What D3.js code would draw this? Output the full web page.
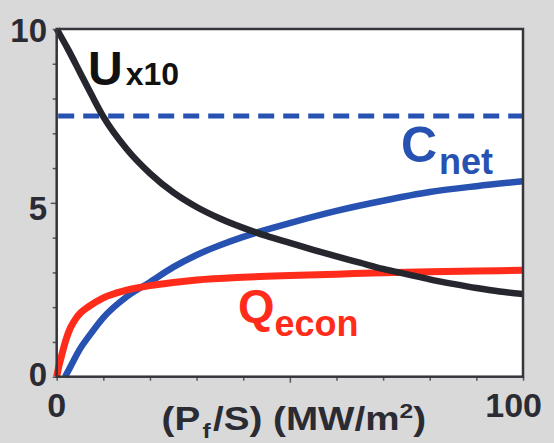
<!DOCTYPE html>
<html>
<head>
<meta charset="utf-8">
<script src="https://cdn.jsdelivr.net/npm/d3@7"></script>
<style>
  body { margin: 0; background: #d9d9da; }
  svg { display: block; }
  text { font-family: "Liberation Sans", Arial, Helvetica, sans-serif; font-weight: bold; }
</style>
</head>
<body>
<svg id="chart" width="554" height="443"></svg>
<script>
// values
let uX = [0, 2.5, 5, 7.5, 10, 15, 20, 25, 30, 35, 40, 45, 50, 55, 60, 65, 70, 75, 80, 85, 90, 95, 100];
let uY = [10, 9.4, 8.75, 8.1, 7.48, 6.55, 5.85, 5.3, 4.88, 4.55, 4.28, 4.05, 3.85, 3.65, 3.46, 3.28, 3.1, 2.95, 2.8, 2.67, 2.55, 2.45, 2.38];

let cX = [1.8, 3, 5, 7, 10, 15, 20, 25, 30, 35, 40, 45, 50, 60, 70, 80, 90, 100];
let cY = [0, 0.3, 0.8, 1.18, 1.7, 2.3, 2.72, 3.15, 3.5, 3.78, 4.02, 4.23, 4.42, 4.77, 5.06, 5.31, 5.48, 5.62];

let qX = [0, 0.5, 1, 2, 3, 4, 5, 7, 10, 15, 20, 25, 30, 40, 50, 60, 70, 80, 90, 100];
let qY = [0, 0.32, 0.58, 1.07, 1.42, 1.65, 1.82, 2.03, 2.27, 2.49, 2.62, 2.71, 2.78, 2.86, 2.91, 2.95, 2.99, 3.02, 3.04, 3.06];

let dashX = [0, 100];
let dashY = [7.5, 7.5];

let xTicks = [0, 10, 20, 30, 40, 50, 60, 70, 80, 90, 100];
let yTicks = [0, 1, 2, 3, 4, 5, 6, 7, 8, 9, 10];
let xLabels = [0, 100];
let yLabels = [0, 5, 10];

const blue = '#2752b2', red = '#ff2c1b', dark = '#26262e';

let svg = d3.select('#chart');

let xScale = d3.scaleLinear().domain([0, 100]).range([56.7, 523]);
let yScale = d3.scaleLinear().domain([0, 10]).range([376.7, 29]);

// plot area
svg.append('rect')
  .attr('x', xScale(0)).attr('y', yScale(10))
  .attr('width', xScale(100) - xScale(0))
  .attr('height', yScale(0) - yScale(10))
  .attr('fill', '#fff');

// ticks (outside)
let xAxis = d3.axisBottom(xScale).tickValues(xTicks).tickFormat('').tickSizeOuter(0)
  .tickSize(4);
let gx = svg.append('g').attr('transform', `translate(0,${yScale(0)})`).call(xAxis);
let yAxis = d3.axisLeft(yScale).tickValues(yTicks).tickFormat('').tickSizeOuter(0)
  .tickSize(4);
let gy = svg.append('g').attr('transform', `translate(${xScale(0)},0)`).call(yAxis);
[gx, gy].forEach(g => {
  g.select('.domain').remove();
  g.selectAll('.tick line').attr('stroke', '#55555c').attr('stroke-width', 1.5);
});
gx.selectAll('.tick line').filter(d => d === 50).attr('y2', 6);
gy.selectAll('.tick line').filter(d => d === 5).attr('x2', -6);

// curves
let line = d3.line()
  .x(d => xScale(d[0]))
  .y(d => yScale(d[1]))
  .curve(d3.curveMonotoneX);

svg.append('clipPath').attr('id', 'clip').append('rect')
  .attr('x', xScale(0) - 4).attr('y', yScale(10) - 4)
  .attr('width', xScale(100) - xScale(0) + 4)
  .attr('height', yScale(0) - yScale(10) + 8);

let plot = svg.append('g').attr('clip-path', 'url(#clip)');

plot.append('path')
  .datum(dashX.map((x, i) => [x, dashY[i]]))
  .attr('d', line)
  .attr('fill', 'none').attr('stroke', blue).attr('stroke-width', 5)
  .attr('stroke-dasharray', '16 9').attr('stroke-dashoffset', -1.5);

plot.append('path')
  .datum(cX.map((x, i) => [x, cY[i]]))
  .attr('d', line)
  .attr('fill', 'none').attr('stroke', blue).attr('stroke-width', 6.5);

plot.append('path')
  .datum(qX.map((x, i) => [x, qY[i]]))
  .attr('d', line)
  .attr('fill', 'none').attr('stroke', red).attr('stroke-width', 7);

plot.append('path')
  .datum(uX.map((x, i) => [x, uY[i]]))
  .attr('d', line)
  .attr('fill', 'none').attr('stroke', dark).attr('stroke-width', 6.5);

// frame
svg.append('rect')
  .attr('x', xScale(0)).attr('y', yScale(10))
  .attr('width', xScale(100) - xScale(0))
  .attr('height', yScale(0) - yScale(10))
  .attr('fill', 'none').attr('stroke', '#35353b').attr('stroke-width', 2.5);

// tick labels
svg.selectAll('.ylab').data(yLabels).enter().append('text')
  .attr('class', 'ylab')
  .attr('x', 47)
  .attr('y', d => yScale(d) + (d === 5 ? 17 : d === 0 ? 9 : 13))
  .attr('text-anchor', 'end')
  .attr('font-size', 33).attr('fill', '#2b2b33')
  .text(d => d);

svg.selectAll('.xlab').data(xLabels).enter().append('text')
  .attr('class', 'xlab')
  .attr('x', d => d === 100 ? xScale(d) + 19 : xScale(d))
  .attr('y', 417)
  .attr('text-anchor', d => d === 100 ? 'end' : 'middle')
  .attr('font-size', 34).attr('fill', '#2b2b33')
  .text(d => d);

// axis title
let title = svg.append('text')
  .attr('transform', `translate(${(xScale(0) + xScale(100)) / 2 + 4},430) scale(1.17,1)`)
  .attr('text-anchor', 'middle')
  .attr('font-size', 33).attr('fill', '#2b2b33');
title.append('tspan').text('(P');
title.append('tspan').attr('dy', 8).attr('dx', 2).attr('font-size', 21).text('f');
title.append('tspan').attr('dy', -8).attr('dx', 2).text('/S) (MW/m');
title.append('tspan').attr('dy', -12).attr('font-size', 21).text('2');
title.append('tspan').attr('dy', 12).text(')');

// series labels
let uLab = svg.append('text').attr('x', 88).attr('y', 85)
  .attr('font-size', 48).attr('fill', '#111');
uLab.append('tspan').text('U');
uLab.append('tspan').attr('dx', 3).attr('font-size', 32).text('x10');

let cLab = svg.append('text').attr('x', 401).attr('y', 162)
  .attr('font-size', 50).attr('fill', blue);
cLab.append('tspan').text('C');
cLab.append('tspan').attr('dx', 2).attr('dy', 12).attr('font-size', 36).text('net');

let qLab = svg.append('text').attr('x', 238).attr('y', 322)
  .attr('font-size', 47).attr('fill', red);
qLab.append('tspan').text('Q');
qLab.append('tspan').attr('dy', 14).attr('font-size', 36).text('econ');
</script>
</body>
</html>
